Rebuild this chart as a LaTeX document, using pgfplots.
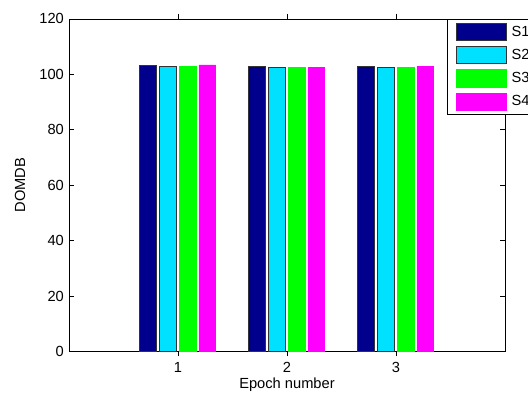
\documentclass[border=0pt]{standalone}
\usepackage{fontspec}
\setmainfont{Liberation Sans}
\usepackage{pgfplots}
\pgfplotsset{compat=1.18}
\definecolor{cNavy}{RGB}{0,0,140}
\definecolor{cCyan}{RGB}{0,224,255}
\definecolor{cGreen}{RGB}{0,255,0}
\definecolor{cMag}{RGB}{255,0,255}
\begin{document}
\fontsize{11}{13}\selectfont
\begin{tikzpicture}
\begin{axis}[
  at={(0pt,0pt)}, anchor=south west,
  scale only axis,
  width=327pt, height=249.4pt,
  xmin=0, xmax=4, ymin=0, ymax=120,
  xtick={1,2,3}, ytick={0,20,40,60,80,100,120},
  tick align=inside, major tick length=3.75pt,
  axis line style={line width=0.6pt},
  every tick/.style={black, line width=0.6pt},
  /pgf/number format/assume math mode=true,
  ticklabel style={font=\fontsize{11}{13}\selectfont},
  x tick label style={yshift=-0.5pt},
  xlabel={Epoch number}, ylabel={DOMDB},
  label style={font=\fontsize{11}{13}\selectfont},
  xlabel style={at={(axis description cs:0.5,0)}, anchor=base, yshift=-28pt},
  ylabel style={at={(axis description cs:-0.1124,0.5)}, anchor=center},
  ybar, bar width=0.153,
  legend style={at={(0.866,1)}, anchor=north west, draw=black, line width=0.6pt,
    inner xsep=7pt, inner ysep=3pt, row sep=4pt, column sep=4pt,
    nodes={inner sep=0pt, font=\fontsize{11}{13}\selectfont}},
  legend image code/.code={\draw[#1, line width=0.5pt] (0pt,-6.4pt) rectangle (37pt,6.4pt);},
]
\addplot[fill=cNavy, draw=black!80, line width=0.5pt, bar shift=-0.279] coordinates {(1,103.3) (2,102.9) (3,102.9)};
\addplot[fill=cCyan, draw=black!80, line width=0.5pt, bar shift=-0.096] coordinates {(1,102.8) (2,102.5) (3,102.4)};
\addplot[fill=cGreen, draw=cGreen, line width=0.5pt, bar shift=0.088] coordinates {(1,102.9) (2,102.5) (3,102.5)};
\addplot[fill=cMag, draw=cMag, line width=0.5pt, bar shift=0.269] coordinates {(1,103.4) (2,102.5) (3,102.9)};
\legend{S1,S2,S3,S4}
\end{axis}
\pgfresetboundingbox
\path[use as bounding box] (-51.75pt,-31.9pt) rectangle (344.25pt,263.6pt);
\end{tikzpicture}
\end{document}
